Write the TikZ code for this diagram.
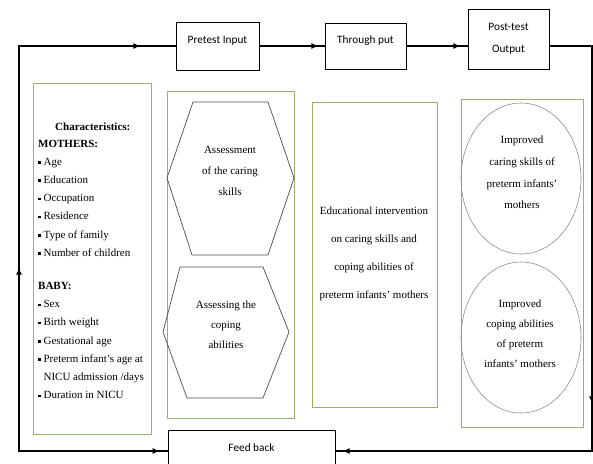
\documentclass[tikz,border=0pt]{standalone}
\usepackage{fontspec}
\setmainfont{Liberation Serif}
\newfontfamily\calfont{Carlito}
\usetikzlibrary{arrows.meta,decorations.markings}

\definecolor{boxgreen}{RGB}{150,180,105}
\newcommand{\bul}{\rule[0.28ex]{0.24em}{0.24em}~}

\tikzset{
  flowtip/.tip={Latex[length=7pt,width=6pt]},
  flow/.style={line width=1.2pt},
  stagebox/.style={draw,line width=0.8pt,font=\calfont\fontsize{11.3}{22}\selectfont,align=center,inner sep=0pt},
  greenbox/.style={draw=boxgreen,line width=0.8pt},
  hexline/.style={draw=black!70,line width=0.7pt},
  ovalline/.style={draw=black!45,line width=0.6pt},
  bodytext/.style={font=\rmfamily\fontsize{11}{#1}\selectfont,align=center,inner sep=0pt}
}

\begin{document}
\begin{tikzpicture}[x=1pt,y=-1pt]
	\useasboundingbox (0,0) rectangle (593,463);
	% panels
	\draw[greenbox] (33,83) rectangle (151,434);
	\draw[greenbox] (167,91) rectangle (294,418);
	\draw[greenbox] (312,102) rectangle (437,407);
	\draw[greenbox] (461,99) rectangle (583,427);
	% hexagons
	\draw[hexline] (193,102) -- (268,102) -- (294,178) -- (268,255) -- (192,255) -- (167,178) -- cycle;
	\draw[hexline] (180,267) -- (263,267) -- (289,332) -- (263,398) -- (187,398) -- (163,332) -- cycle;
	% ovals
	\draw[ovalline] (521,178.5) ellipse (60 and 75.5);
	\draw[ovalline] (521,337.5) ellipse (60 and 75.5);
	% texts
	\node[anchor=north west,align=left,inner sep=0pt,font=\rmfamily\fontsize{11}{18.2}\selectfont] (chars) at (38,123)
	{\hspace*{17pt}\textbf{Characteristics:}\\[-2pt]
	 \textbf{MOTHERS:}\\
	 \bul Age\\ \bul Education\\ \bul Occupation\\ \bul Residence\\ \bul Type of family\\ \bul Number of children\\[15pt]
	 \textbf{BABY:}\\
	 \bul Sex\\ \bul Birth weight\\ \bul Gestational age\\ \bul Preterm infant's age at\\
	 \phantom{\bul}NICU admission /days\\ \bul Duration in NICU};
	\node[bodytext=21] (care) at (230,171) {Assessment\\of the caring\\skills};
	\node[bodytext=20] (cope) at (226,325) {Assessing the\\coping\\abilities};
	\node[bodytext=28] (edu) at (374,254) {Educational intervention\\on caring skills and\\coping abilities of\\preterm infants' mothers};
	\node[bodytext=21.7] (imp1) at (522,172.5) {Improved\\caring skills of\\preterm infants'\\mothers};
	\node[bodytext=20] (imp2) at (520,333.5) {Improved\\coping abilities\\of preterm\\infants' mothers};
	% stages
	\node[stagebox,minimum width=83pt,minimum height=48pt,text height=8pt,text depth=14pt] (pre) at (217.5,46) {Pretest Input};
	\node[stagebox,minimum width=81pt,minimum height=46pt,text height=8pt,text depth=14pt] (thr) at (365.5,46) {Through put};
	\node[stagebox,minimum width=81pt,minimum height=60pt] (post) at (508.5,39) {Post-test\\Output};
	\node[stagebox,minimum width=167pt,minimum height=42pt,text height=8pt,text depth=8pt] (fb) at (251.5,451) {Feed back};
	\coordinate (ne) at (592,46);
	\coordinate (se) at (592,451);
	\coordinate (sw) at (19,451);
	\coordinate (nw) at (19,46);
	% loop
	\draw[flow,postaction=decorate,decoration={markings,
	  mark=at position 59pt with {\arrow{flowtip}}}] (pre.east) -- (thr.west);
	\draw[line width=2pt,postaction=decorate,decoration={markings,
	  mark=at position 54pt with {\arrow{flowtip}}}] (thr.east) -- (post.west |- thr.east);
	\draw[flow,postaction=decorate,decoration={markings,
	  mark=at position 400pt with {\arrow{flowtip}},
	  mark=at position 697pt with {\arrow{flowtip}}}] (post.east |- ne) -- (ne) -- (se) -- (fb.east);
	\draw[flow,postaction=decorate,decoration={markings,
	  mark=at position 8pt with {\arrowreversed{flowtip}},
	  mark=at position 332pt with {\arrow{flowtip}},
	  mark=at position 675pt with {\arrow{flowtip}}}] (fb.west) -- (sw) -- (nw) -- (pre.west);
\end{tikzpicture}
\end{document}
